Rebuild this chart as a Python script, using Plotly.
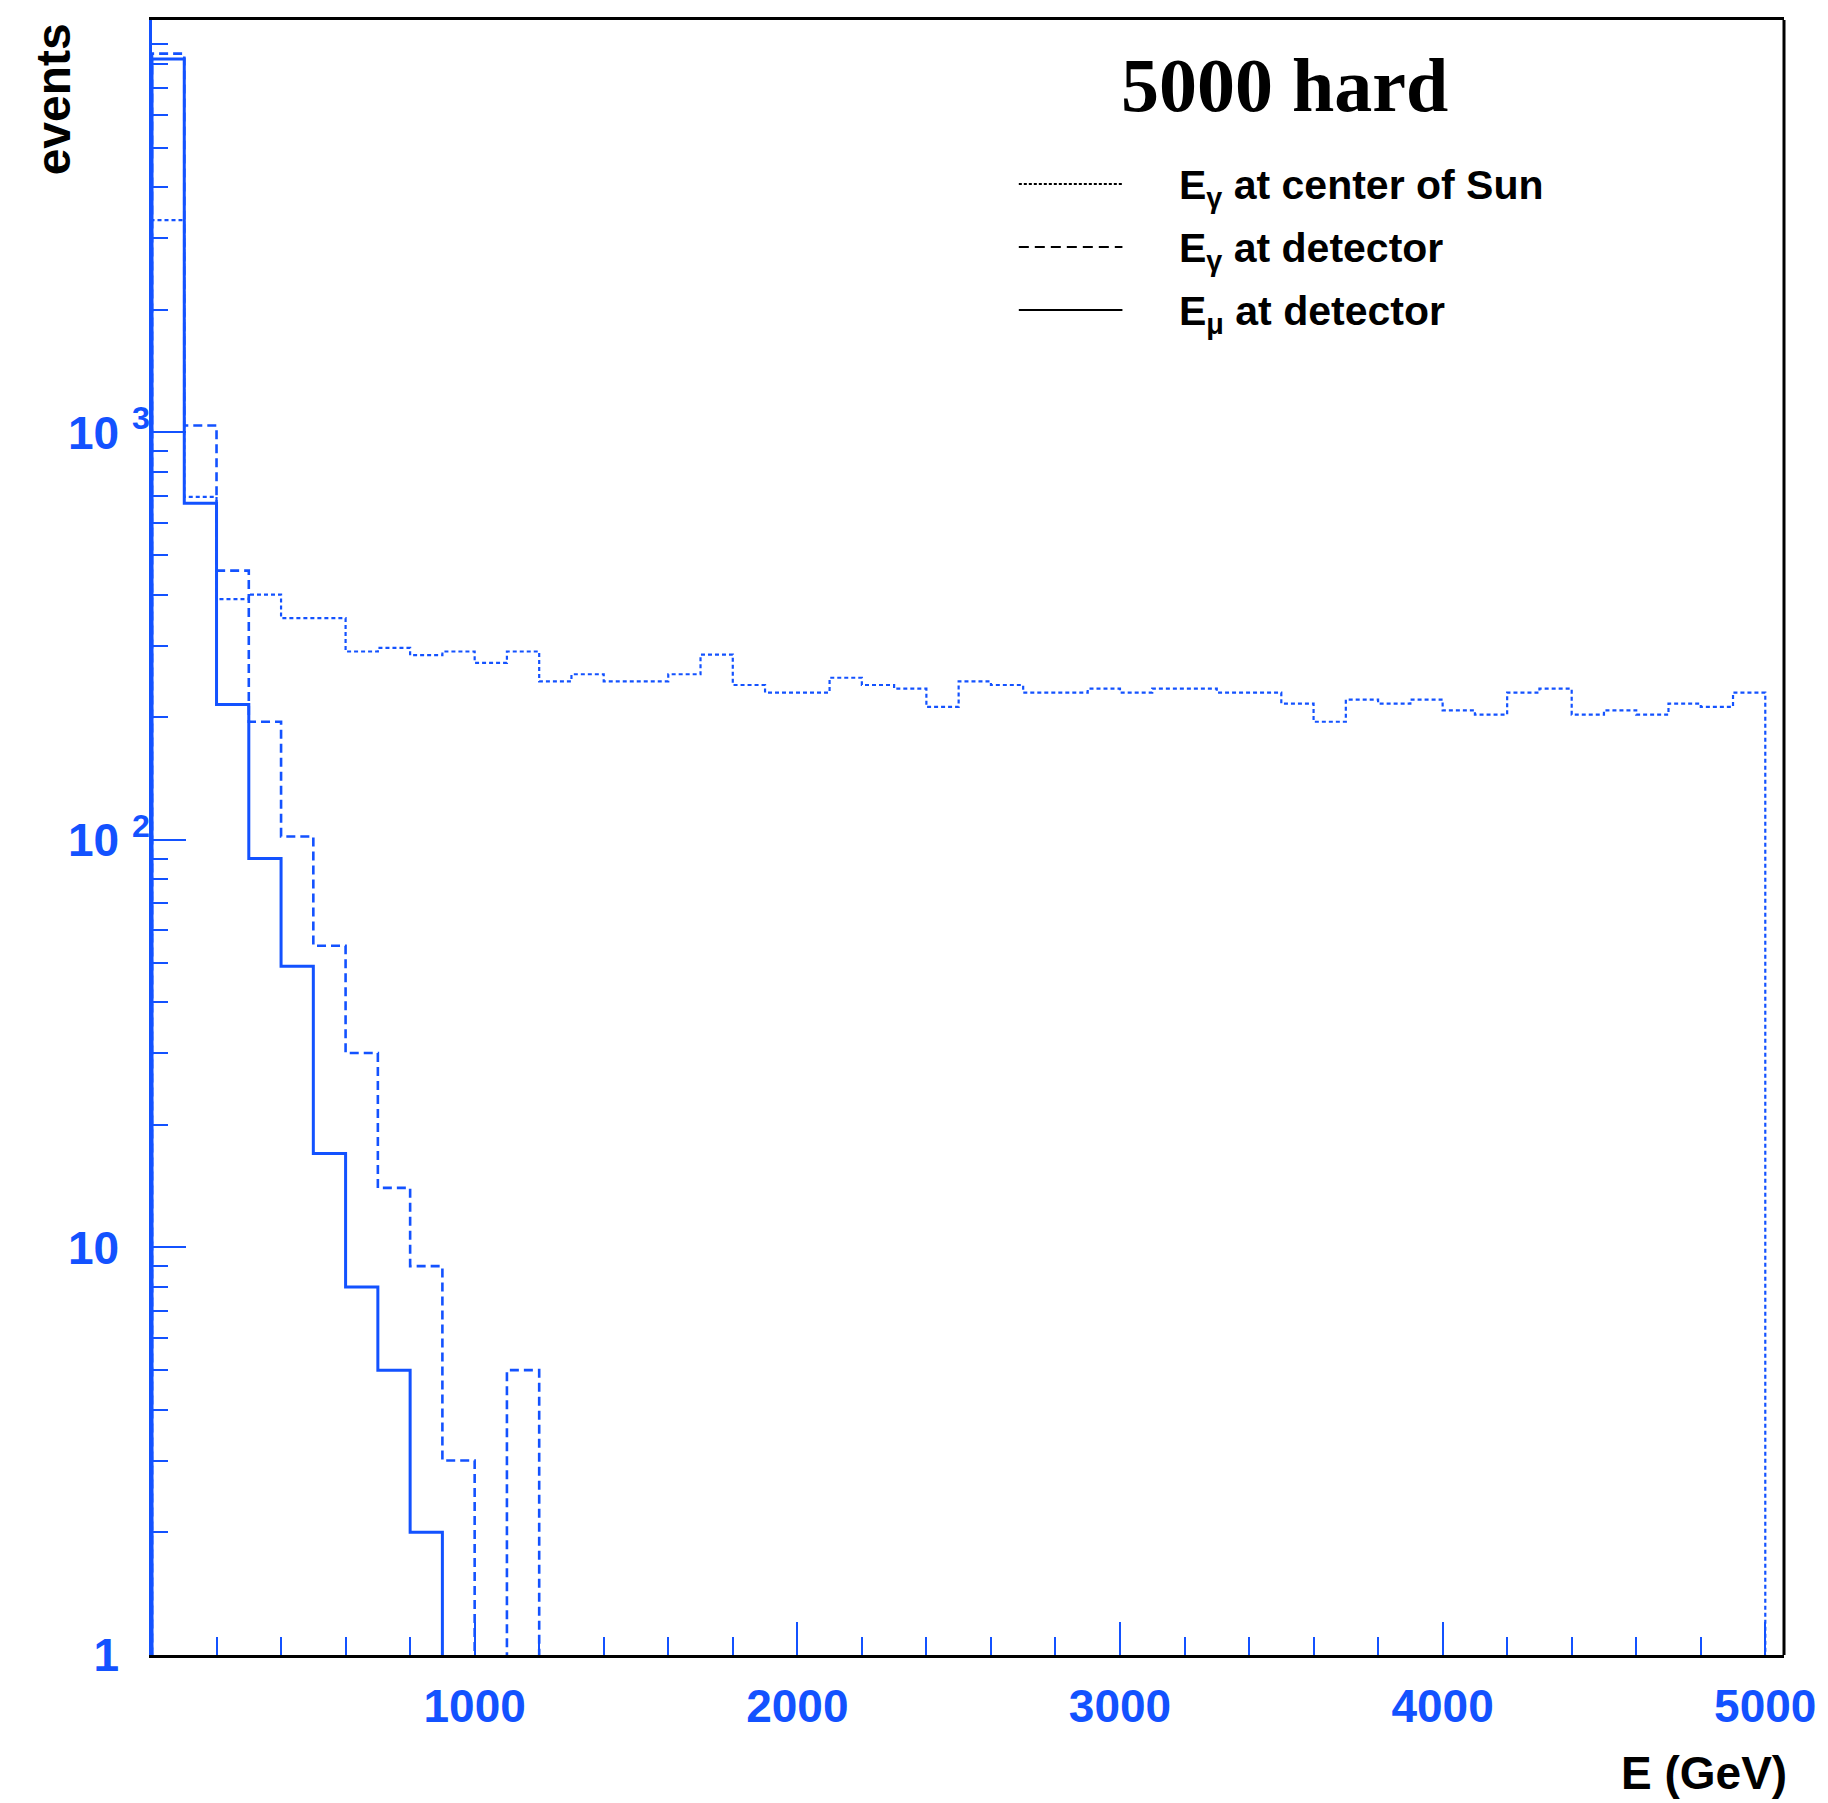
import plotly.graph_objects as go

# ---------------- data ----------------
bin_edges = list(range(0, 5100, 100))  # 50 bins of 100 GeV

# E_gamma at center of Sun (dotted)
center_sun = [3320, 695, 390, 400, 350, 350, 290, 296, 284, 290,
              272, 290, 245, 255, 245, 245, 255, 285, 240, 230,
              230, 250, 240, 235, 212, 245, 240, 230, 230, 235,
              230, 235, 235, 230, 230, 216, 195, 221, 216, 221,
              208, 203, 230, 235, 203, 208, 203, 216, 212, 230]
# E_gamma at detector (dashed)
det_gamma = [8500, 1040, 458, 195, 102, 55, 30, 14, 9, 3,
             0, 5] + [0] * 38
# E_mu at detector (solid)
det_mu = [8250, 670, 215, 90, 49, 17, 8, 5, 2] + [0] * 41

y_tickvals = [1, 10, 100, 1000]
y_ticktext = ["1", "10", "10", "10"]
y_tickexp = ["", "", "2", "3"]
x_tickvals = [1000, 2000, 3000, 4000, 5000]

legend_labels = ["E<sub>γ</sub> at center of Sun",
                 "E<sub>γ</sub> at detector",
                 "E<sub>μ</sub> at detector"]

# ---------------- style ----------------
BLUE = "#1352ff"
FLOOR = 0.1  # zero-count bins drop below the axis

W_FIG, H_FIG = 1828, 1803
L, R, T, B = 152, 1790, 20, 1655
PW, PH = R - L, B - T


def px(x):
    return (x - L) / PW


def py(y):
    return (B - y) / PH


def step_xy(counts):
    xs = [bin_edges[0]] + bin_edges
    ys = [FLOOR] + [c if c > 0 else FLOOR for c in counts] + [FLOOR]
    return xs, ys


def ylab(base, exp):
    if exp:
        return base + " <sup>" + exp + "</sup>"
    return base + " <sup><span style='color:rgba(0,0,0,0)'>0</span></sup>"


fig = go.Figure()
styles = [
    (center_sun, dict(color=BLUE, width=2.2, dash="4px,3px")),
    (det_gamma, dict(color=BLUE, width=2.6, dash="9px,5px")),
    (det_mu, dict(color=BLUE, width=3)),
]
for counts, line in styles:
    xs, ys = step_xy(counts)
    fig.add_trace(go.Scatter(x=xs, y=ys, mode="lines", line_shape="hv",
                             line=line, showlegend=False, hoverinfo="skip"))

fig.update_layout(
    width=W_FIG, height=H_FIG,
    margin=dict(l=L, r=W_FIG - R, t=T, b=H_FIG - B, pad=0),
    paper_bgcolor="white", plot_bgcolor="white",
    font=dict(family="Liberation Sans, Arial, sans-serif"),
)

fig.update_xaxes(
    range=[0, 5058], showgrid=False, zeroline=False,
    showline=True, linecolor="black", linewidth=3, mirror=True,
    tickmode="array", tickvals=x_tickvals,
    ticks="inside", ticklen=33, tickwidth=2, tickcolor=BLUE,
    minor=dict(ticks="inside", dtick=200, tick0=0, ticklen=18,
               tickwidth=2, tickcolor=BLUE, showgrid=False),
    tickfont=dict(size=46, color=BLUE, weight="bold"),
    ticklabelstandoff=9,
)

minor_y = [m * 10 ** e for e in range(0, 4) for m in range(2, 10)]
fig.update_yaxes(
    type="log", range=[0, 4.012], showgrid=False, zeroline=False,
    showline=True, linecolor=BLUE, linewidth=3, mirror=False,
    tickmode="array", tickvals=y_tickvals,
    ticktext=[ylab(b, e) for b, e in zip(y_ticktext, y_tickexp)],
    ticks="inside", ticklen=34, tickwidth=2, tickcolor=BLUE,
    minor=dict(ticks="inside", tickmode="array", tickvals=minor_y,
               ticklen=16, tickwidth=2, tickcolor=BLUE, showgrid=False),
    tickfont=dict(size=46, color=BLUE, weight="bold"),
    ticklabelstandoff=-10,
)

# right frame edge
fig.add_shape(type="line", xref="paper", yref="paper", x0=1, x1=1, y0=0, y1=1,
              line=dict(color="black", width=3))

# title
fig.add_annotation(text="5000 hard", xref="paper", yref="paper",
                   x=px(1289), y=py(85), xanchor="center", yanchor="middle",
                   showarrow=False,
                   font=dict(family="Liberation Serif, Times New Roman, serif",
                             size=76, color="black", weight="bold"))

# legend
leg_y = [184, 247, 310]
leg_dash = ["3px,2px", "10px,6px", "solid"]
for lab, yy, dsh in zip(legend_labels, leg_y, leg_dash):
    fig.add_shape(type="line", xref="paper", yref="paper",
                  x0=px(1022), x1=px(1126), y0=py(yy), y1=py(yy),
                  line=dict(color="black", width=2, dash=dsh))
    fig.add_annotation(text=lab, xref="paper", yref="paper",
                       x=px(1181), y=py(yy + 4), xanchor="left", yanchor="middle",
                       showarrow=False,
                       font=dict(size=41, color="black", weight="bold"))

# axis titles
fig.add_annotation(text="events", xref="paper", yref="paper",
                   x=px(54), y=py(99), xanchor="center", yanchor="middle",
                   textangle=-90, showarrow=False,
                   font=dict(size=48, color="black", weight="bold"))
fig.add_annotation(text="E (GeV)", xref="paper", yref="paper",
                   x=px(1795), y=py(1773), xanchor="right", yanchor="middle",
                   showarrow=False,
                   font=dict(size=46, color="black", weight="bold"))

fig.write_html("out.html")
